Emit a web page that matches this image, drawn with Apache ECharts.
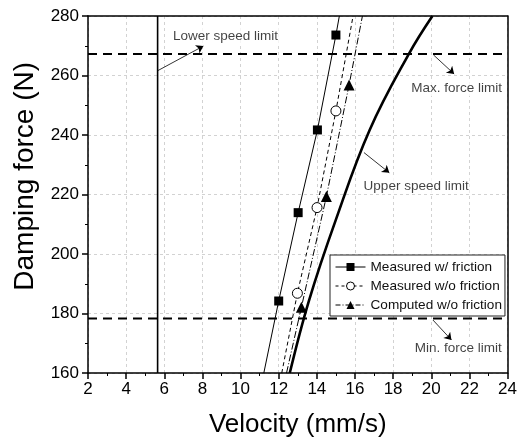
<!DOCTYPE html>
<html>
<head>
<meta charset="utf-8">
<script src="https://cdn.jsdelivr.net/npm/echarts@6/dist/echarts.min.js"></script>
<style>
  html, body { margin: 0; padding: 0; background: #fff; }
  #chart { width: 520px; height: 443px; }
</style>
</head>
<body>
<div id="chart"></div>
<script>
// Velocity (mm/s) vs damping force (N)
const measuredFriction = [[11.22, 160], [12.0, 184.2], [13.02, 213.9], [14.03, 241.7], [15.0, 273.6], [15.18, 280]];
const measuredFrictionMarks = [1, 2, 3, 4]; // indices carrying a marker
const measuredNoFriction = [[12.16, 160], [12.98, 186.8], [14.01, 215.6], [15.0, 248.1], [15.9, 280]];
const measuredNoFrictionMarks = [1, 2, 3];
const computedNoFriction = [[12.41, 160], [13.19, 182.1], [14.5, 219.3], [15.69, 256.8], [16.39, 280]];
const computedNoFrictionMarks = [1, 2, 3];
const upperSpeedLimit = [[12.58, 160], [13.58, 184.2], [14.99, 211.4], [16.77, 241.7], [18.82, 267.2], [20.06, 280]];
const lowerSpeedLimit = [[5.65, 160], [5.65, 280]];
const maxForceLimit = 267.2;
const minForceLimit = 178.3;

// annotation callouts: text anchor and arrow (from -> to), in data units
const callouts = [
  { text: 'Lower speed limit', at: [6.4, 273.3], from: [5.65, 261.6], to: [8.05, 269.9] },
  { text: 'Max. force limit', at: [18.9, 255.8], from: [20.12, 266.9], to: [21.2, 260.5] },
  { text: 'Upper speed limit', at: [16.4, 222.9], from: [16.47, 234.1], to: [17.8, 227.3] },
  { text: 'Min. force limit', at: [19.08, 168.3], from: [20.09, 177.8], to: [21.06, 171.1] }
];

const FONT = '"Liberation Sans", Arial, sans-serif';

function withMarks(data, marks) {
  return data.map((p, i) => marks.includes(i) ? { value: p } : { value: p, symbol: 'none' });
}

const chart = echarts.init(document.getElementById('chart'), null, { renderer: 'canvas' });

const gridLine = { show: true, lineStyle: { color: '#d2d2d2', type: [3, 3], width: 1 } };

chart.setOption({
  animation: false,
  backgroundColor: '#fff',
  textStyle: { fontFamily: FONT },
  grid: { left: 88, right: 12, top: 16, bottom: 70, show: false },
  graphic: [{
    type: 'text', left: 11, top: 62,
    rotation: Math.PI / 2,
    style: { text: 'Damping force (N)', font: '28px ' + FONT, fill: '#000' }
  }],
  legend: {
    left: 330, top: 255, orient: 'vertical',
    itemWidth: 30, itemHeight: 10, itemGap: 5,
    padding: [5, 3, 4, 5],
    borderColor: '#222', borderWidth: 1,
    backgroundColor: '#fff',
    textStyle: { fontFamily: FONT, fontSize: 13.6, color: '#111', padding: [0, 0, 0, 0] },
    data: [
      { name: 'Measured w/ friction', lineStyle: { width: 1, type: 'solid' } },
      { name: 'Measured w/o friction', lineStyle: { width: 1, type: [3, 3] }, itemStyle: { borderWidth: 1 } },
      { name: 'Computed w/o friction', lineStyle: { width: 1, type: [5, 2, 1, 2] } }
    ]
  },
  xAxis: [{
    type: 'value', min: 2, max: 24, interval: 2,
    name: 'Velocity (mm/s)', nameLocation: 'middle', nameGap: 39,
    nameTextStyle: { fontFamily: FONT, fontSize: 26, color: '#000' },
    axisLine: { show: true, onZero: false, lineStyle: { color: '#000', width: 1.5 } },
    axisTick: { show: true, inside: false, length: 6, lineStyle: { color: '#000', width: 1.5 } },
    minorTick: { show: true, splitNumber: 2, length: 3, lineStyle: { color: '#000', width: 1 } },
    axisLabel: { fontFamily: FONT, fontSize: 17, color: '#000', margin: 8 },
    splitLine: gridLine
  }, {
    type: 'value', min: 2, max: 24, interval: 2, position: 'top',
    axisLine: { show: true, onZero: false, lineStyle: { color: '#000', width: 1.5 } },
    axisTick: { show: false }, axisLabel: { show: false }, splitLine: { show: false }
  }],
  yAxis: [{
    type: 'value', min: 160, max: 280, interval: 20,
    axisLine: { show: true, onZero: false, lineStyle: { color: '#000', width: 1.5 } },
    axisTick: { show: true, inside: false, length: 6, lineStyle: { color: '#000', width: 1.5 } },
    minorTick: { show: true, splitNumber: 2, length: 3, lineStyle: { color: '#000', width: 1 } },
    axisLabel: { fontFamily: FONT, fontSize: 17, color: '#000', margin: 9 },
    splitLine: gridLine
  }, {
    type: 'value', min: 160, max: 280, interval: 20, position: 'right',
    axisLine: { show: true, onZero: false, lineStyle: { color: '#000', width: 1.5 } },
    axisTick: { show: false }, axisLabel: { show: false }, splitLine: { show: false }
  }],
  series: [
    {
      name: 'Lower speed limit', type: 'line', data: lowerSpeedLimit, symbol: 'none',
      lineStyle: { color: '#000', width: 1.6 }, z: 3
    },
    {
      name: 'Max. force limit', type: 'line', symbol: 'none',
      data: [[2, maxForceLimit], [24, maxForceLimit]],
      lineStyle: { color: '#000', width: 2, type: [9, 6] }, z: 3
    },
    {
      name: 'Min. force limit', type: 'line', symbol: 'none',
      data: [[2, minForceLimit], [24, minForceLimit]],
      lineStyle: { color: '#000', width: 2, type: [9, 6] }, z: 3
    },
    {
      name: 'Upper speed limit', type: 'line', data: upperSpeedLimit, symbol: 'none', smooth: 0.4,
      lineStyle: { color: '#000', width: 2.6 }, z: 3
    },
    {
      name: 'Measured w/ friction', type: 'line',
      data: withMarks(measuredFriction, measuredFrictionMarks),
      symbol: 'rect', symbolSize: 9,
      itemStyle: { color: '#000' },
      lineStyle: { color: '#000', width: 1 }, z: 4
    },
    {
      name: 'Measured w/o friction', type: 'line',
      data: withMarks(measuredNoFriction, measuredNoFrictionMarks),
      symbol: 'circle', symbolSize: 10,
      itemStyle: { color: '#fff', borderColor: '#000', borderWidth: 1 },
      lineStyle: { color: '#000', width: 1, type: [4, 3] }, z: 4
    },
    {
      name: 'Computed w/o friction', type: 'line',
      data: withMarks(computedNoFriction, computedNoFrictionMarks),
      symbol: 'triangle', symbolSize: 11,
      itemStyle: { color: '#000' },
      lineStyle: { color: '#000', width: 1, type: [7, 2, 1, 2] }, z: 4
    },
    {
      name: 'callout arrows', type: 'lines', coordinateSystem: 'cartesian2d',
      symbol: ['none', 'arrow'], symbolSize: 7,
      lineStyle: { color: '#000', width: 0.8, opacity: 1 },
      data: callouts.map(c => ({ coords: [c.from, c.to] })), z: 5
    },
    {
      name: 'callout text', type: 'scatter', symbolSize: 0, silent: true,
      data: callouts.map(c => ({ value: c.at, name: c.text })),
      label: {
        show: true, position: 'right', distance: 0, formatter: p => p.name,
        fontFamily: FONT, fontSize: 13.5, color: '#111',
        backgroundColor: '#fff', padding: [1, 1, 1, 1]
      }, z: 5
    }
  ]
});
</script>
</body>
</html>
